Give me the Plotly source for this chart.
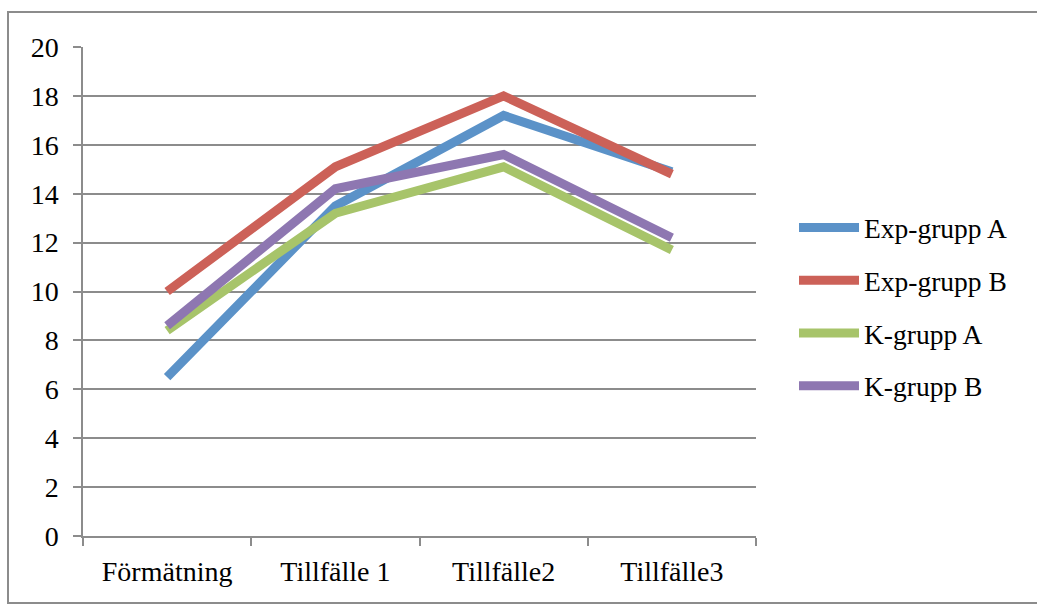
import plotly.graph_objects as go

categories = ["Förmätning", "Tillfälle 1", "Tillfälle2", "Tillfälle3"]
series_names = ["Exp-grupp A", "Exp-grupp B", "K-grupp A", "K-grupp B"]
exp_a = [6.5, 13.5, 17.2, 14.9]
exp_b = [10.0, 15.1, 18.0, 14.8]
k_a = [8.4, 13.2, 15.1, 11.7]
k_b = [8.6, 14.2, 15.6, 12.2]
y_ticks = [0, 2, 4, 6, 8, 10, 12, 14, 16, 18, 20]

colors = ["#5B92C8", "#CC6158", "#A7C46A", "#8E77B1"]
font_family = "Liberation Serif, Times New Roman, serif"

fig = go.Figure()
for name, vals, col in zip(series_names, [exp_a, exp_b, k_a, k_b], colors):
    fig.add_trace(go.Scatter(
        x=categories, y=vals, name=name, mode="lines", legendgroup=name,
        line=dict(color=col, width=9),
    ))

W, H = 1037, 605
ml, mr, mt, mb = 83, 281, 47, 69
pw = W - ml - mr
ph = H - mt - mb

fig.update_layout(
    width=W, height=H,
    margin=dict(l=ml, r=mr, t=mt, b=mb),
    paper_bgcolor="white", plot_bgcolor="white",
    font=dict(family=font_family, size=28, color="black"),
    showlegend=True,
    legend=dict(
        x=(794 - ml) / pw, xanchor="left",
        y=(536 - 203) / ph, yanchor="top",
        font=dict(family=font_family, size=27.5, color="black"),
        tracegroupgap=14, itemwidth=60,
        bgcolor="rgba(0,0,0,0)",
    ),
    xaxis=dict(
        type="category", range=[-0.5, 3.5],
        showgrid=False, showline=True, linecolor="#8C8C8C", linewidth=1.5,
        ticks="outside", tickson="boundaries", ticklen=8, tickcolor="#8C8C8C", tickwidth=1.5,
        tickfont=dict(family=font_family, size=28, color="black"),
        ticklabelstandoff=10,
        zeroline=False, fixedrange=True,
    ),
    yaxis=dict(
        range=[0, 20], tickvals=y_ticks,
        showgrid=True, gridcolor="#8C8C8C", gridwidth=1.5,
        showline=True, linecolor="#8C8C8C", linewidth=1.5,
        ticks="outside", ticklen=8, tickcolor="#8C8C8C", tickwidth=1.5,
        tickfont=dict(family=font_family, size=28, color="black"),
        ticklabelstandoff=9,
        zeroline=False, fixedrange=True,
    ),
    shapes=[dict(
        type="rect", xref="paper", yref="paper",
        x0=(8 - ml) / pw, x1=(1045 - ml) / pw,
        y0=(H - mb - 603) / ph, y1=(H - mb - 12) / ph,
        line=dict(color="#8C8C8C", width=2), fillcolor="rgba(0,0,0,0)",
        layer="below",
    )],
)

fig.write_html("out.html", config={"displayModeBar": False},
               post_script="document.body.style.margin='0';")
